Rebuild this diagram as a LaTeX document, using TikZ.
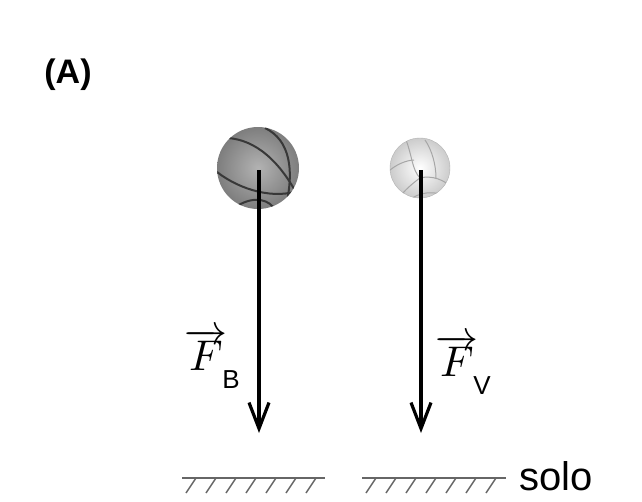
\documentclass[tikz,border=0pt]{standalone}
\usepackage{fontspec}
\setsansfont{Liberation Sans}
\usetikzlibrary{arrows.meta}
\usetikzlibrary{positioning}
\definecolor{ballgray}{rgb}{0.58,0.58,0.58}
\definecolor{seam}{rgb}{0.22,0.22,0.22}

\begin{document}
\begin{tikzpicture}[x=1pt,y=-1pt,
		force/.style={line width=3.4pt, -{Straight Barb[length=26pt,width=20pt,line width=3.2pt]}},
		ground/.style={line width=1.8pt, gray!80!black},
		hatch/.style={line width=1.5pt, gray!80!black},
		lab/.style={font=\sffamily\fontsize{40}{44}\selectfont}
	]
	\useasboundingbox (0,0) rectangle (642,501);

	% basketball
	\node[circle, minimum size=82pt, inner sep=0pt, shading=radial, inner color=gray!60, outer color=ballgray!85!black] (B) at (258,168) {};
	\begin{scope}
		\clip (B.center) circle (41);
		\draw[seam, line width=2pt] (228,138) .. controls (255,140) and (280,160) .. (300,200);
		\draw[seam, line width=2pt] (217,172) .. controls (240,190) and (275,200) .. (300,190);
		\draw[seam, line width=2pt] (265,128) .. controls (290,140) and (295,170) .. (285,210);
		\draw[seam, line width=2pt] (237,206) .. controls (255,195) and (270,200) .. (275,210);
	\end{scope}

	% volleyball
	\node[circle, minimum size=60pt, inner sep=0pt, draw=gray!60, shading=radial, inner color=white, outer color=gray!40] (V) at (420,168) {};
	\begin{scope}
		\clip (V.center) circle (30);
		\draw[gray!70, line width=1pt] (406,140) .. controls (412,155) and (412,170) .. (420,178);
		\draw[gray!70, line width=1pt] (420,178) .. controls (410,185) and (400,195) .. (398,200);
		\draw[gray!70, line width=1pt] (420,178) .. controls (432,175) and (445,180) .. (452,188);
		\draw[gray!70, line width=1pt] (390,170) .. controls (400,162) and (410,160) .. (414,160);
		\draw[gray!70, line width=1pt] (425,140) .. controls (432,150) and (436,165) .. (436,178);
		\draw[gray!70, line width=1pt] (412,198) .. controls (425,190) and (440,192) .. (450,198);
	\end{scope}

	% forces
	\coordinate (Bend) at (259,433);
	\coordinate (Vend) at (421,433);
	\draw[force] (259,170) -- (Bend);
	\draw[force] (421,170) -- (Vend);
	\node[anchor=base, inner sep=0pt] (FB) at (212,370) {\scalebox{4.3}{$\overrightarrow{F}$}\kern-5pt\raisebox{-18pt}{\sffamily\fontsize{26}{28}\selectfont B}};
	\node[anchor=base, inner sep=0pt] (FV) at (463,376) {\scalebox{4.3}{$\overrightarrow{F}$}\kern-5pt\raisebox{-18pt}{\sffamily\fontsize{26}{28}\selectfont V}};

	% ground
	\draw[ground] (182,478) -- (325,478);
	\draw[ground] (362,478) -- (506,478);
	\foreach \x in {196,216,...,316} \draw[hatch] (\x,478) -- (\x-10,493);
	\foreach \x in {376,396,...,496} \draw[hatch] (\x,478) -- (\x-10,493);
	\node[lab, anchor=west, inner sep=0pt] (solo) at (519,476) {solo};

	\node[font=\sffamily\bfseries\fontsize{34}{38}\selectfont] (A) at (68,75) {(A)};
\end{tikzpicture}
\end{document}
